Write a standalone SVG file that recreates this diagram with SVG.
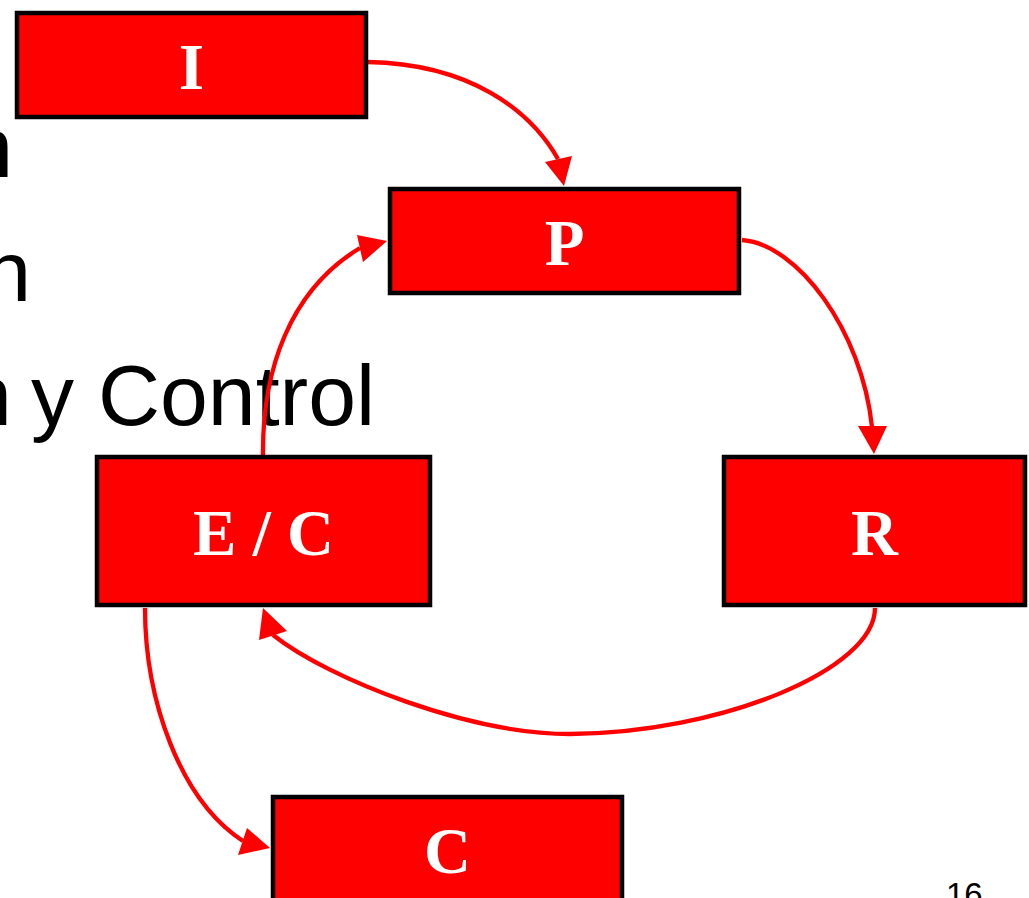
<svg xmlns="http://www.w3.org/2000/svg" width="1029" height="898" viewBox="0 0 1029 898">
<style>
.bg{font-family:"Liberation Sans",Arial,sans-serif;font-size:86px;fill:#000}
.pg{font-family:"Liberation Sans",Arial,sans-serif;font-size:33px;fill:#000}
.box{fill:#FF0000;stroke:#000;stroke-width:4.5}
.lbl{font-family:"Liberation Serif","Times New Roman",serif;font-weight:bold;font-size:65px;fill:#fff;text-anchor:middle}
.ln{fill:none;stroke:#FF0000;stroke-width:4.3}
.ah{fill:#FF0000;stroke:none}
</style>
<rect width="1029" height="898" fill="#fff"/>
<g id="background-text">
<text class="bg" x="13" y="177" text-anchor="end">n</text>
<text class="bg" x="31" y="301" text-anchor="end">n</text>
<text class="bg" y="425"><tspan x="-36">n</tspan><tspan x="31">y Control</tspan></text>
<text class="pg" x="946" y="906">16</text>
</g>
<g id="connectors">
<path class="ln" d="M368,62 C470,64 530,110 558,159"/>
<polygon class="ah" points="564,186 545,162 572,156"/>
<path class="ln" d="M742,240 C797,244 862,330 872,427"/>
<polygon class="ah" points="874,454 858,426 887,426"/>
<path class="ln" d="M263,456 C262,370 290,290 360,248"/>
<polygon class="ah" points="387,241 357,235 363,262"/>
<path class="ln" d="M875,608 C875,670 720,733 570,734 C470,734 330,680 273,635"/>
<polygon class="ah" points="263,608 259,640 287,631"/>
<path class="ln" d="M145,608 C145,700 180,800 243,841"/>
<polygon class="ah" points="270,848 247,828 238,855"/>
</g>
<g id="node-I">
<rect class="box" x="17" y="13" width="349" height="104"/>
<text class="lbl" x="191.5" y="89">I</text>
</g>
<g id="node-P">
<rect class="box" x="390" y="189" width="349" height="104"/>
<text class="lbl" x="564.5" y="265">P</text>
</g>
<g id="node-EC">
<rect class="box" x="97" y="457" width="333" height="148"/>
<text class="lbl" x="263.5" y="555">E / C</text>
</g>
<g id="node-R">
<rect class="box" x="724" y="457" width="301" height="148"/>
<text class="lbl" x="874.5" y="555">R</text>
</g>
<g id="node-C">
<rect class="box" x="273" y="797" width="349" height="104"/>
<text class="lbl" x="447.5" y="873">C</text>
</g>
</svg>
